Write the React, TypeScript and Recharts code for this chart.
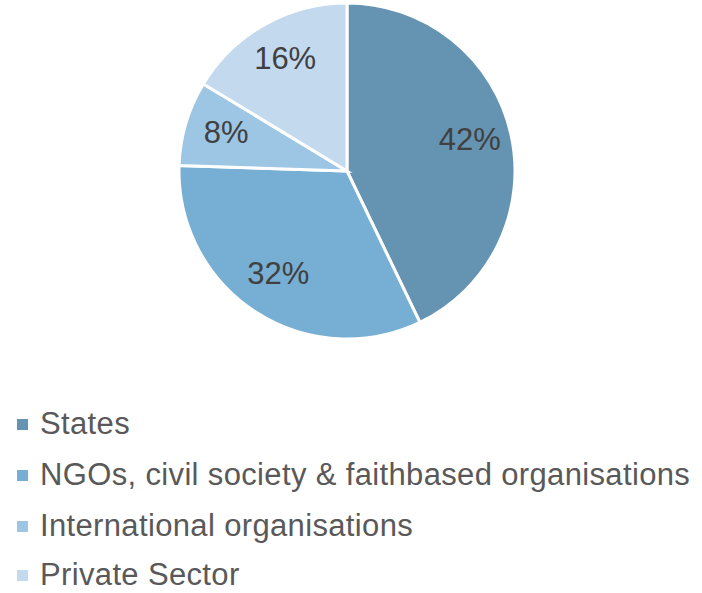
import React from "react";
import { PieChart, Pie, Cell } from "recharts";

const categories = [
  "States",
  "NGOs, civil society & faithbased organisations",
  "International organisations",
  "Private Sector",
];
const shares = [42, 32, 8, 16];
const colors = ["#6593b2", "#77aed4", "#9dc5e4", "#c3d9ee"];

const data = categories.map((name, i) => ({ name, value: shares[i] }));

const RADIAN = Math.PI / 180;

const renderLabel = (props: any) => {
  const { cx, cy, midAngle, outerRadius, value } = props;
  const r = outerRadius * 0.75;
  const x = cx + r * Math.cos(-midAngle * RADIAN);
  const y = cy + r * Math.sin(-midAngle * RADIAN) - 3;
  return (
    <text
      x={x}
      y={y}
      fill="#404040"
      fontSize={31}
      fontFamily="'Liberation Sans', Arial, sans-serif"
      textAnchor="middle"
      dominantBaseline="central"
    >
      {`${value}%`}
    </text>
  );
};

const legendTop = [424, 475, 526, 575];

export default function App() {
  return (
    <div
      style={{
        position: "absolute",
        left: 0,
        top: 0,
        width: 702,
        height: 593,
        background: "#fff",
        overflow: "hidden",
        fontFamily: "'Liberation Sans', Arial, sans-serif",
      }}
    >
      <PieChart width={702} height={350}>
        <Pie
          data={data}
          dataKey="value"
          nameKey="name"
          cx={342}
          cy={166}
          outerRadius={168}
          startAngle={90}
          endAngle={-270}
          stroke="#ffffff"
          strokeWidth={3}
          label={renderLabel}
          labelLine={false}
          isAnimationActive={false}
        >
          {data.map((d, i) => (
            <Cell key={d.name} fill={colors[i]} />
          ))}
        </Pie>
      </PieChart>
      {categories.map((name, i) => (
        <div
          key={name}
          style={{
            position: "absolute",
            left: 17,
            top: legendTop[i] - 15,
            height: 30,
            lineHeight: "30px",
            display: "flex",
            alignItems: "center",
            fontSize: 31,
            letterSpacing: 0.35,
            color: "#595959",
            whiteSpace: "nowrap",
          }}
        >
          <span
            style={{
              display: "inline-block",
              width: 11,
              height: 11,
              background: colors[i],
              marginRight: 12,
            }}
          />
          {name}
        </div>
      ))}
    </div>
  );
}
